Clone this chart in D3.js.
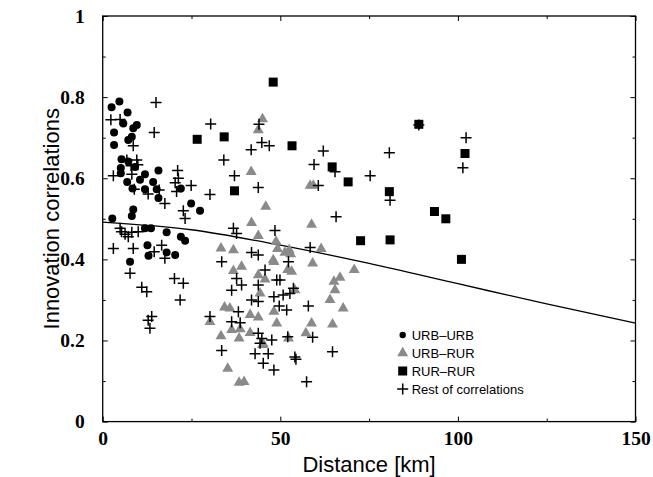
<!DOCTYPE html>
<html>
<head>
<meta charset="utf-8">
<script src="https://cdn.jsdelivr.net/npm/d3@7"></script>
<style>
  body { margin: 0; background: #fff; }
</style>
</head>
<body>
<div id="chart"></div>
<script>
// distance [km], correlation
var urbUrb = [[2.5,0.775],[4.7,0.789],[7.0,0.762],[5.8,0.735],[9.6,0.731],[8.6,0.723],[3.2,0.713],[8.2,0.702],
  [7.2,0.694],[3.2,0.682],[5.3,0.647],[5.1,0.625],[7.2,0.641],[9.1,0.628],[5.1,0.612],[6.9,0.591],[11.9,0.610],
  [15.7,0.619],[10.5,0.596],[8.4,0.575],[11.9,0.573],[14.2,0.591],[15.2,0.573],[15.7,0.551],[22.0,0.575],
  [24.9,0.538],[27.4,0.520],[8.6,0.523],[8.2,0.507],[2.7,0.501],[11.9,0.477],[13.6,0.477],[18.0,0.467],
  [22.0,0.456],[23.2,0.446],[12.6,0.435],[12.9,0.409],[18.0,0.417],[20.4,0.411],[7.7,0.394]];

var urbRur = [[45.0,0.746],[43.8,0.719],[41.8,0.616],[45.9,0.530],[58.4,0.582],[59.3,0.582],[58.8,0.486],
  [48.8,0.444],[49.2,0.426],[51.3,0.417],[52.5,0.423],[52.9,0.413],[61.5,0.426],[59.1,0.390],[48.2,0.394],
  [52.1,0.374],[53.2,0.370],[70.8,0.374],[66.8,0.355],[65.1,0.345],[65.4,0.324],[64.0,0.300],[67.7,0.279],
  [54.1,0.324],[48.2,0.271],[49.0,0.242],[58.8,0.242],[64.7,0.240],[57.2,0.218],[52.3,0.205],[45.0,0.189],
  [41.9,0.490],[43.8,0.458],[33.3,0.427],[36.8,0.423],[48.0,0.398],[36.8,0.372],[39.1,0.382],[43.8,0.361],
  [45.7,0.351],[44.3,0.316],[34.3,0.282],[35.8,0.279],[30.2,0.246],[41.5,0.263],[43.8,0.257],[36.3,0.226],
  [38.7,0.228],[41.5,0.219],[33.3,0.211],[38.4,0.205],[45.2,0.191],[35.2,0.131],[38.4,0.096],[39.8,0.098]];

var rurRur = [[48.0,0.837],[26.6,0.696],[34.2,0.702],[37.1,0.569],[53.3,0.680],[64.6,0.628],[69.1,0.591],
  [80.7,0.567],[89.0,0.733],[93.4,0.518],[96.6,0.500],[102.0,0.661],[72.6,0.446],[80.9,0.448],[101.0,0.400]];

var rest = [[15.0,0.787],[2.3,0.744],[4.9,0.745],[14.5,0.713],[30.4,0.734],[8.6,0.680],[44.0,0.733],[44.8,0.688],
  [46.9,0.680],[41.8,0.670],[34.1,0.645],[6.8,0.645],[9.6,0.645],[8.0,0.631],[9.9,0.633],[3.0,0.606],[8.2,0.610],
  [37.1,0.606],[21.1,0.619],[21.3,0.600],[20.4,0.589],[24.9,0.582],[8.9,0.573],[12.8,0.561],[15.9,0.571],
  [20.8,0.567],[30.2,0.560],[43.8,0.577],[17.5,0.538],[22.7,0.520],[23.2,0.501],
  [62.1,0.667],[80.7,0.663],[59.5,0.634],[65.4,0.616],[75.3,0.606],[60.7,0.582],[80.9,0.546],[89.0,0.731],
  [65.7,0.505],[102.3,0.700],[101.4,0.626],
  [48.5,0.471],[58.4,0.429],[52.3,0.394],[45.7,0.374],[49.0,0.349],[49.9,0.349],[53.7,0.329],[52.7,0.316],
  [48.2,0.308],[50.8,0.312],[49.7,0.285],[51.8,0.275],[57.9,0.285],[52.1,0.209],[59.1,0.208],[64.7,0.172],
  [54.1,0.159],[54.4,0.154],[57.4,0.098],
  [4.9,0.477],[5.3,0.468],[6.3,0.462],[7.2,0.456],[8.2,0.467],[10.0,0.468],[3.0,0.427],[8.6,0.427],[14.5,0.419],
  [16.6,0.435],[17.5,0.403],[7.7,0.366],[20.2,0.353],[22.7,0.341],[11.0,0.331],[12.4,0.320],[21.8,0.300],
  [12.8,0.250],[13.8,0.259],[13.3,0.230],[36.8,0.477],[37.7,0.464],[41.9,0.417],[43.8,0.411],[33.5,0.394],
  [37.7,0.353],[39.1,0.337],[36.3,0.324],[43.8,0.337],[41.9,0.300],[43.8,0.296],[30.2,0.259],[38.2,0.271],
  [36.3,0.246],[38.7,0.244],[43.8,0.218],[44.8,0.205],[44.3,0.193],[47.6,0.201],[33.5,0.175],[42.9,0.167],
  [46.6,0.167],[45.2,0.144],[48.2,0.127]];

// fitted decay curve
var fitX = [0, 25, 50, 75, 100, 125, 150];
var fitY = [0.492, 0.473, 0.435, 0.390, 0.340, 0.290, 0.243];

var xMajor = [0, 50, 100, 150], xMinor = [25, 75, 125];
var yMajor = [0, 0.2, 0.4, 0.6, 0.8, 1], yMinor = [0.1, 0.3, 0.5, 0.7, 0.9];
var legendLabels = ["URB\u2013URB", "URB\u2013RUR", "RUR\u2013RUR", "Rest of correlations"];

var SANS = "'Liberation Sans', Arial, Helvetica, sans-serif";
var SERIF = "'Liberation Serif', 'Times New Roman', Times, serif";

var width = 653, height = 477;
var margin = {top: 16, right: 17.5, bottom: 55.4, left: 102.7};
var w = width - margin.left - margin.right,
    h = height - margin.top - margin.bottom;

var svg = d3.select('#chart').append('svg')
            .attr('width', width)
            .attr('height', height);
var g = svg.append('g').attr('transform', 'translate(' + margin.left + ',' + margin.top + ')');

var x = d3.scaleLinear().domain([0, 150]).range([0, w]);
var y = d3.scaleLinear().domain([0, 1]).range([h, 0]);

var fmt = function(d) { return d === 0 || d === 1 ? d : d3.format('.1f')(d); };

// axes: ticks point inward on all four sides
g.append('g').attr('transform', 'translate(0,' + h + ')')
  .call(d3.axisBottom(x).tickValues(xMajor).tickSize(-5).tickPadding(10).tickFormat(d3.format('d')));
g.append('g').attr('transform', 'translate(0,' + h + ')')
  .call(d3.axisBottom(x).tickValues(xMinor).tickSize(-3).tickFormat(''));
g.append('g').call(d3.axisTop(x).tickValues(xMajor).tickSize(-5).tickFormat(''));
g.append('g').call(d3.axisTop(x).tickValues(xMinor).tickSize(-3).tickFormat(''));
g.append('g')
  .call(d3.axisLeft(y).tickValues(yMajor).tickSize(-5).tickPadding(18).tickFormat(fmt));
g.append('g').call(d3.axisLeft(y).tickValues(yMinor).tickSize(-3).tickFormat(''));
g.append('g').attr('transform', 'translate(' + w + ',0)')
  .call(d3.axisRight(y).tickValues(yMajor).tickSize(-5).tickFormat(''));
g.append('g').attr('transform', 'translate(' + w + ',0)')
  .call(d3.axisRight(y).tickValues(yMinor).tickSize(-3).tickFormat(''));
g.selectAll('.domain').remove();
g.selectAll('.tick line').attr('stroke', '#000');
g.selectAll('.tick text')
  .style('font-family', SERIF).style('font-weight', 'bold').style('font-size', '19.5px').attr('fill', '#000');

g.append('rect').attr('width', w).attr('height', h)
  .attr('fill', 'none').attr('stroke', '#000').attr('stroke-width', 1.3);

// fit line
var fit = fitX.map(function(d, i) { return [d, fitY[i]]; });
g.append('path').datum(fit)
  .attr('fill', 'none').attr('stroke', '#000').attr('stroke-width', 1.3)
  .attr('d', d3.line().x(function(d) { return x(d[0]); }).y(function(d) { return y(d[1]); })
    .curve(d3.curveMonotoneX));

var tri = d3.symbol().type(d3.symbolTriangle).size(52);
function plus(s) { return 'M' + (-s) + ',0H' + s + 'M0,' + (-s) + 'V' + s; }

g.append('g').selectAll('circle').data(urbUrb).enter().append('circle')
  .attr('cx', function(d) { return x(d[0]); }).attr('cy', function(d) { return y(d[1]); })
  .attr('r', 4).attr('fill', '#000');

g.append('g').selectAll('path').data(urbRur).enter().append('path')
  .attr('transform', function(d) { return 'translate(' + x(d[0]) + ',' + y(d[1]) + ')'; })
  .attr('d', tri).attr('fill', '#8a8a8a');

g.append('g').selectAll('rect').data(rurRur).enter().append('rect')
  .attr('x', function(d) { return x(d[0]) - 4.5; }).attr('y', function(d) { return y(d[1]) - 4.5; })
  .attr('width', 9).attr('height', 9).attr('fill', '#000');

g.append('g').selectAll('path').data(rest).enter().append('path')
  .attr('transform', function(d) { return 'translate(' + x(d[0]) + ',' + y(d[1]) + ')'; })
  .attr('d', plus(5.5)).attr('stroke', '#000').attr('stroke-width', 1.5).attr('fill', 'none');

// legend
var lg = svg.append('g').attr('transform', 'translate(402.7,335)');
var rows = lg.selectAll('g').data(legendLabels).enter().append('g')
  .attr('transform', function(d, i) { return 'translate(0,' + (i * 18) + ')'; });
rows.append('text').attr('x', 9).attr('y', 5)
  .style('font-family', SANS).style('font-size', '13px')
  .text(function(d) { return d; });
lg.append('circle').attr('r', 3.2).attr('fill', '#000');
lg.append('path').attr('transform', 'translate(0,18)').attr('d', tri).attr('fill', '#8a8a8a');
lg.append('rect').attr('x', -4.5).attr('y', 31.5).attr('width', 9).attr('height', 9).attr('fill', '#000');
lg.append('path').attr('transform', 'translate(0,54)').attr('d', plus(5.5))
  .attr('stroke', '#000').attr('stroke-width', 1.5);

// titles
svg.append('text')
  .attr('x', margin.left + w / 2).attr('y', 472).attr('text-anchor', 'middle')
  .style('font-family', SANS).style('font-size', '22px')
  .text('Distance [km]');
svg.append('text')
  .attr('transform', 'translate(59,' + (margin.top + h / 2) + ') rotate(-90)')
  .attr('text-anchor', 'middle')
  .style('font-family', SANS).style('font-size', '22px')
  .text('Innovation correlations');
</script>
</body>
</html>
